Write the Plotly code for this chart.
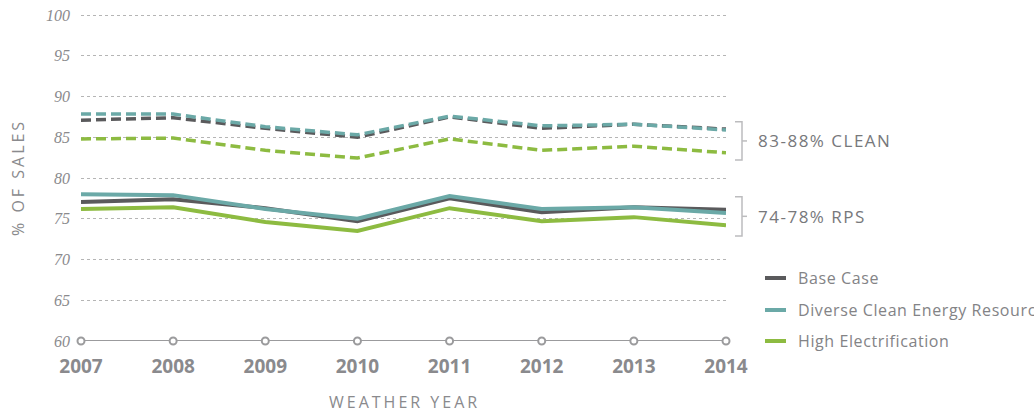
import plotly.graph_objects as go

years = [2007, 2008, 2009, 2010, 2011, 2012, 2013, 2014]

# RPS (solid lines)
rps_base = [77.05, 77.4, 76.3, 74.7, 77.5, 75.8, 76.4, 76.1]
rps_diverse = [78.0, 77.9, 76.2, 75.0, 77.8, 76.2, 76.4, 75.7]
rps_high = [76.2, 76.4, 74.6, 73.5, 76.3, 74.7, 75.2, 74.2]

# Clean (dashed lines)
clean_base = [87.1, 87.4, 86.1, 85.0, 87.5, 86.1, 86.6, 86.0]
clean_diverse = [87.85, 87.85, 86.3, 85.3, 87.6, 86.4, 86.6, 85.9]
clean_high = [84.8, 84.9, 83.4, 82.45, 84.8, 83.4, 83.9, 83.1]

series_names = ["Base Case", "Diverse Clean Energy Resources", "High Electrification"]
colors = ["#5a5a5c", "#6ba9a7", "#8dbb41"]

y_ticks = [60, 65, 70, 75, 80, 85, 90, 95, 100]
baseline = [60] * len(years)

# bracket ranges (data units) and labels
bracket_ranges = [(86.9, 82.2), (77.7, 72.9)]
bracket_labels = ["83-88% CLEAN", "74-78% RPS"]

GRAY = "#8a8a8d"

# plot area geometry (pixels)
PL, PR, PT, PB = 81, 308, 13, 72
PW = 1034 - PL - PR
PH = 413 - PT - PB
Y0 = 413 - PB  # pixel row of plot bottom


def spaced(text, px):
    return f'<span style="letter-spacing:{px}px">{text}</span>'


def px_x(x):
    return (x - PL) / PW


def px_y(y):
    return (Y0 - y) / PH


fig = go.Figure()

# baseline axis with open circles
fig.add_trace(go.Scatter(
    x=years, y=baseline, mode="lines+markers",
    line=dict(color="#9b9b9d", width=2),
    marker=dict(symbol="circle", size=7, color="white", line=dict(color="#9b9b9d", width=2)),
    showlegend=False, hoverinfo="skip", cliponaxis=False,
))

for name, vals, c in zip(series_names, [clean_base, clean_diverse, clean_high], colors):
    fig.add_trace(go.Scatter(
        x=years, y=vals, mode="lines", name=name,
        line=dict(color=c, width=3.5, dash="10px,5px"),
        showlegend=False,
    ))

for name, vals, c in zip(series_names, [rps_base, rps_diverse, rps_high], colors):
    fig.add_trace(go.Scatter(
        x=years, y=vals, mode="lines", name=name,
        line=dict(color=c, width=4),
        showlegend=False,
    ))

# brackets
bx0, bx1, bx2 = px_x(735), px_x(742), px_x(747)
for (top, bot), label in zip(bracket_ranges, bracket_labels):
    fig.add_shape(type="path", xref="paper", yref="y",
                  path=f"M {bx0},{top} L {bx1},{top} L {bx1},{bot} L {bx0},{bot}",
                  line=dict(color="#bcbcbe", width=1.5))
    mid = (top + bot) / 2
    fig.add_shape(type="line", xref="paper", yref="y",
                  x0=bx1, x1=bx2, y0=mid, y1=mid,
                  line=dict(color="#bcbcbe", width=1.5))
    fig.add_annotation(xref="paper", yref="y", x=px_x(756), y=mid,
                       text=spaced(label, 1.5), showarrow=False, xanchor="left", yanchor="middle",
                       font=dict(family="Open Sans", size=17, color="#77787b"))

# manual legend
legend_rows = [278, 310, 341]
for name, c, row in zip(series_names, colors, legend_rows):
    ly = px_y(row)
    fig.add_shape(type="line", xref="paper", yref="paper",
                  x0=px_x(765), x1=px_x(786), y0=ly, y1=ly,
                  line=dict(color=c, width=4))
    fig.add_annotation(xref="paper", yref="paper", x=px_x(796), y=ly,
                       text=spaced(name, 0.6), showarrow=False, xanchor="left", yanchor="middle",
                       font=dict(family="Open Sans", size=16, color="#838386"))

# axis titles
fig.add_annotation(xref="paper", yref="paper", x=px_x(404), y=px_y(402),
                   text=spaced("WEATHER YEAR", 3), showarrow=False, xanchor="center", yanchor="middle",
                   font=dict(family="Open Sans", size=16, color=GRAY))
fig.add_annotation(xref="paper", yref="paper", x=px_x(18), y=px_y(178),
                   text=spaced("% OF SALES", 3), showarrow=False, xanchor="center", yanchor="middle",
                   textangle=-90,
                   font=dict(family="Open Sans", size=16, color=GRAY))

fig.update_layout(
    width=1034, height=413,
    margin=dict(l=PL, r=PR, t=PT, b=PB, autoexpand=False),
    paper_bgcolor="white", plot_bgcolor="white",
    showlegend=False,
    xaxis=dict(
        range=[2007, 2014], tickvals=years, ticktext=[str(y) for y in years],
        showgrid=False, zeroline=False, showline=False, ticks="",
        tickfont=dict(family="Open Sans", size=19, color=GRAY, weight="bold"),
        ticklabelstandoff=12, automargin=False,
    ),
    yaxis=dict(
        range=[60, 100.25], tickvals=y_ticks,
        showgrid=True, gridcolor="#b5b5b5", griddash="dot", gridwidth=1,
        zeroline=False, showline=False, ticks="",
        tickfont=dict(family="Liberation Serif", size=16, color=GRAY, style="italic"),
        ticklabelstandoff=10, automargin=False,
    ),
)

# remove the default 8px page margin so the figure sits at the window's top-left corner
fig.write_html("out.html", config={"displayModeBar": False},
               post_script="document.body.style.margin='0';")
